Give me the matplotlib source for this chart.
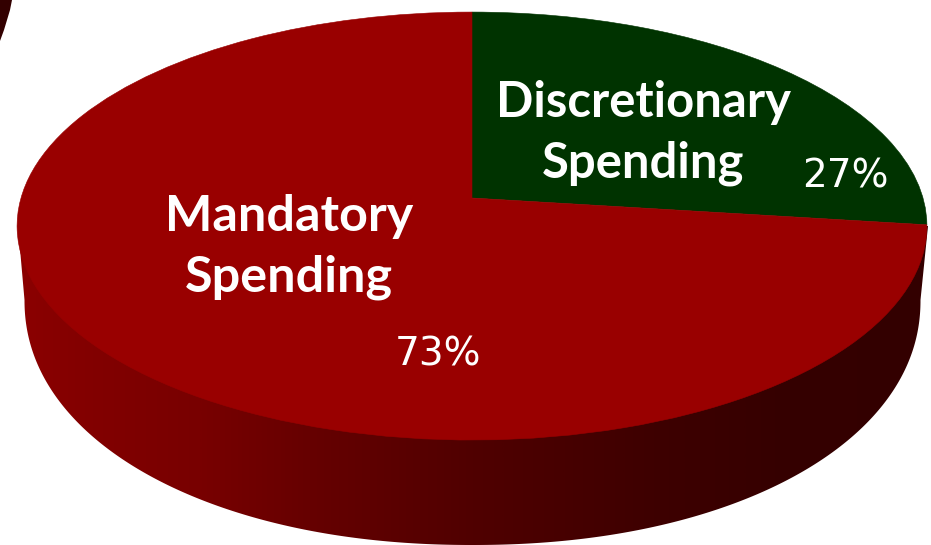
import numpy as np
import matplotlib
matplotlib.use("Agg")
import matplotlib.pyplot as plt
from matplotlib.transforms import Transform
from matplotlib.path import Path
from matplotlib.patches import Polygon
from matplotlib.colors import LinearSegmentedColormap

categories = ["Discretionary\nSpending", "Mandatory\nSpending"]
shares = [27, 73]
share_labels = ["27%", "73%"]
slice_colors = ["#003300", "#990000"]

W, H = 931, 545
APEX_X, APEX_Y = 472, 198
A, B, C = 451.0, 210.3, 0.131


class TiltedDisc(Transform):
    """Perspective projection of the unit pie onto the pixel-sized axes."""
    input_dims = output_dims = 2
    is_affine = False

    def transform_non_affine(self, xy):
        xy = np.asarray(xy, float)
        d = 1 + C * xy[:, 1]
        return np.column_stack([APEX_X + A * xy[:, 0] / d, APEX_Y - B * xy[:, 1] / d])

    def transform_path_non_affine(self, path):
        return Path(self.transform_non_affine(path.vertices), path.codes)


fig = plt.figure(figsize=(W / 100, H / 100), dpi=100, facecolor="white")
ax = fig.add_axes([0, 0, 1, 1])
wedges, _ = ax.pie(shares, colors=slice_colors, startangle=90, counterclock=False)
ax.set_aspect("auto")
ax.set_xlim(0, W)
ax.set_ylim(H, 0)
ax.axis("off")

for w, colour in zip(wedges, slice_colors):
    w.set_transform(TiltedDisc() + ax.transData)
    w.set_edgecolor(colour)
    w.set_linewidth(0.4)
    w.set_zorder(3)

# side wall: lower half of the (slightly squarish) base outline joined to the rim
t = np.linspace(0, np.pi, 400)
n = 2.1
wall_xy = np.column_stack([
    472.5 + 448 * np.sign(np.cos(t)) * np.abs(np.cos(t)) ** (2 / n),
    300 + 245 * np.abs(np.sin(t)) ** (2 / n),
])
wall_xy = np.vstack([[928, 226], wall_xy, [18, 226]])
wall = Polygon(wall_xy, closed=True, transform=ax.transData, facecolor="none", edgecolor="none")
ax.add_patch(wall)
wall_cmap = LinearSegmentedColormap.from_list(
    "wall",
    [(0.00, "#8b0000"), (0.08, "#820000"), (0.20, "#780000"), (0.32, "#660000"),
     (0.50, "#500000"), (0.70, "#3e0000"), (0.85, "#350000"), (1.00, "#330000")],
)
im = ax.imshow(np.linspace(0, 1, 512)[None, :], cmap=wall_cmap, extent=(18, 928, H, 200),
               aspect="auto", zorder=2)
im.set_clip_path(wall)
ax.set_xlim(0, W)
ax.set_ylim(H, 0)

# sliver of dark wall at the top-left corner
ax.add_patch(Polygon([(0, 0), (12, 0), (10, 10), (7, 20), (4, 30), (0, 41)],
                     closed=True, facecolor="#330000", edgecolor="none"))

name_font = dict(family="Lato", weight="bold", color="white", ha="center", va="center",
                 linespacing=1.42, zorder=5)
ax.text(643, 133, categories[0], fontsize=35.3, **name_font)
ax.text(289, 247, categories[1], fontsize=36.2, **name_font)
pct_font = dict(family="DejaVu Sans", color="white", ha="center", va="center", fontsize=28, zorder=5)
ax.text(845, 177, share_labels[0], **pct_font)
ax.text(438, 354, share_labels[1], **pct_font)

fig.savefig("out.png", dpi=100)
